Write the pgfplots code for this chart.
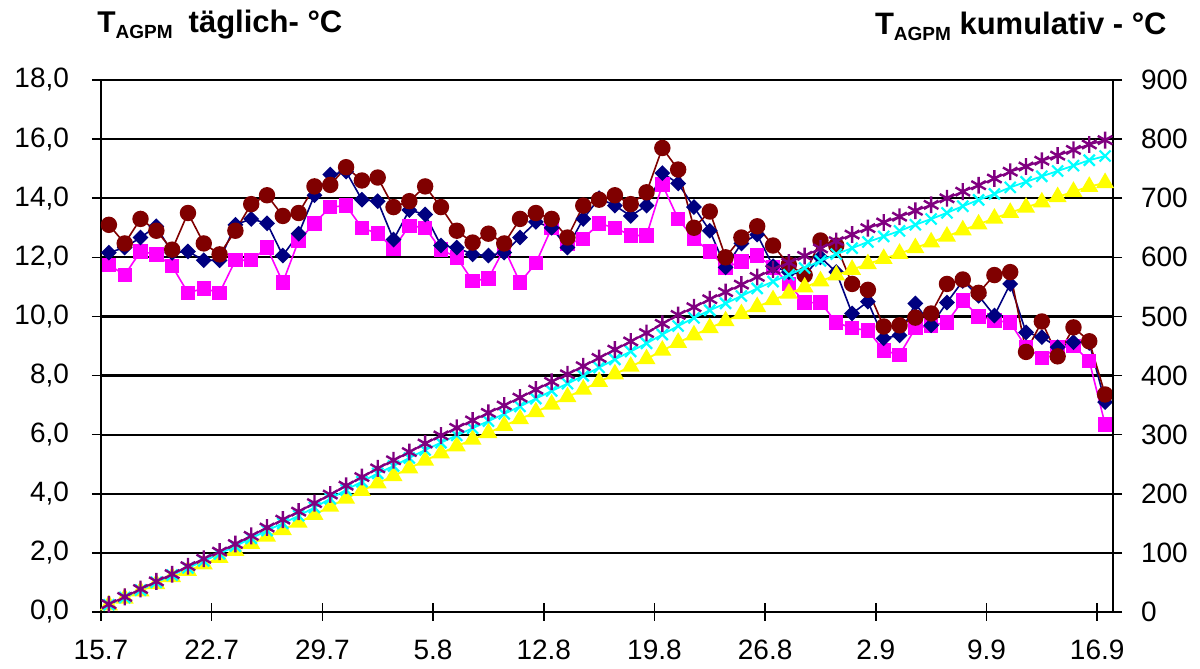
\documentclass[border=0pt]{standalone}
\usepackage{pgfplots}
\pgfplotsset{compat=1.18}
\usepackage{pgfplotstable}
\usepackage{fontspec}
\setmainfont{Liberation Sans}

\definecolor{cnavy}{RGB}{0,0,128}
\definecolor{cmaroon}{RGB}{128,0,0}
\definecolor{cmag}{RGB}{255,0,255}
\definecolor{cpurp}{RGB}{128,0,128}
\definecolor{ccyan}{RGB}{0,255,255}
\definecolor{cyel}{RGB}{255,255,0}

\pgfplotstableread{
x R N M P C Y
0.5 13.1 12.16 11.75 13.1 12.16 11.75
1.5 12.47 12.33 11.4 25.57 24.49 23.15
2.5 13.3 12.67 12.2 38.87 37.16 35.35
3.5 12.9 13.05 12.1 51.77 50.21 47.45
4.5 12.26 12.15 11.7 64.03 62.36 59.15
5.5 13.5 12.2 10.8 77.53 74.56 69.95
6.5 12.47 11.9 10.95 90.00 86.46 80.90
7.5 12.1 11.9 10.8 102.10 98.36 91.70
8.5 12.9 13.1 11.9 115.00 111.46 103.60
9.5 13.8 13.3 11.9 128.80 124.76 115.50
10.5 14.1 13.15 12.33 142.90 137.91 127.83
11.5 13.4 12.06 11.15 156.30 149.97 138.98
12.5 13.5 12.8 12.57 169.80 162.77 151.55
13.5 14.4 14.1 13.15 184.20 176.87 164.70
14.5 14.45 14.8 13.7 198.65 191.67 178.40
15.5 15.05 14.9 13.75 213.70 206.57 192.15
16.5 14.6 13.95 13.0 228.30 220.52 205.15
17.5 14.7 13.9 12.8 243.00 234.42 217.95
18.5 13.7 12.6 12.3 256.70 247.02 230.25
19.5 13.9 13.6 13.07 270.60 260.62 243.32
20.5 14.4 13.45 13.0 285.00 274.07 256.32
21.5 13.7 12.4 12.26 298.70 286.47 268.58
22.5 12.9 12.33 12.0 311.60 298.80 280.58
23.5 12.5 12.1 11.2 324.10 310.90 291.78
24.5 12.8 12.06 11.28 336.90 322.96 303.06
25.5 12.47 12.16 12.3 349.37 335.12 315.36
26.5 13.3 12.67 11.15 362.67 347.79 326.51
27.5 13.5 13.2 11.8 376.17 360.99 338.31
28.5 13.3 13.0 13.0 389.47 373.99 351.31
29.5 12.67 12.33 12.45 402.14 386.32 363.76
30.5 13.75 13.3 12.63 415.89 399.62 376.39
31.5 13.95 14.0 13.14 429.84 413.62 389.53
32.5 14.1 13.75 13.0 443.94 427.37 402.53
33.5 13.8 13.4 12.74 457.74 440.77 415.27
34.5 14.2 13.75 12.74 471.94 454.52 428.01
35.5 15.7 14.85 14.46 487.64 469.37 442.47
36.5 14.97 14.5 13.3 502.61 483.87 455.77
37.5 13.0 13.7 12.63 515.61 497.57 468.40
38.5 13.55 12.9 12.2 529.16 510.47 480.60
39.5 12.0 11.66 11.66 541.16 522.13 492.26
40.5 12.67 12.47 11.86 553.83 534.60 504.12
41.5 13.05 12.77 12.06 566.88 547.37 516.18
42.5 12.4 11.7 11.66 579.28 559.07 527.84
43.5 11.75 11.5 11.1 591.03 570.57 538.94
44.5 11.4 11.4 10.47 602.43 581.97 549.41
45.5 12.57 12.0 10.47 615.00 593.97 559.88
46.5 12.4 11.5 9.8 627.40 605.47 569.68
47.5 11.1 10.1 9.6 638.50 615.57 579.28
48.5 10.9 10.5 9.53 649.40 626.07 588.81
49.5 9.66 9.26 8.85 659.06 635.33 597.66
50.5 9.7 9.36 8.7 668.76 644.69 606.36
51.5 9.96 10.44 9.6 678.72 655.13 615.96
52.5 10.1 9.7 9.7 688.82 664.83 625.66
53.5 11.1 10.47 9.8 699.92 675.30 635.46
54.5 11.25 11.2 10.54 711.17 686.50 646.00
55.5 10.8 10.7 10.0 721.97 697.20 656.00
56.5 11.4 10.03 9.86 733.37 707.23 665.86
57.5 11.5 11.1 9.8 744.87 718.33 675.66
58.5 8.8 9.46 8.96 753.67 727.79 684.62
59.5 9.83 9.3 8.6 763.50 737.09 693.22
60.5 8.65 8.96 8.96 772.15 746.05 702.18
61.5 9.63 9.13 9.0 781.78 755.18 711.18
62.5 9.16 9.1 8.5 790.94 764.28 719.68
63.5 7.36 7.1 6.35 798.30 771.38 726.03
}\data

\pgfplotsset{
  common/.style={
    scale only axis, width=506pt, height=266pt,
    xmin=0, xmax=64,
    axis line style={line width=1.2pt, -},
    tick align=center, major tick length=9pt,
    tick style={black, line width=0.8pt},
    /pgf/number format/assume math mode=true,
    tick label style={font=\fontsize{14}{16}\selectfont},
    clip=false,
  }
}

\begin{document}
\begin{tikzpicture}
\useasboundingbox (-50.5pt,-28.5pt) rectangle (549.5pt,306pt);
\begin{axis}[
  common,
  ymin=0, ymax=18,
  axis x line*=bottom, axis y line*=left,
  xtick={0,7,...,63},
  xticklabels={15.7,22.7,29.7,5.8,12.8,19.8,26.8,2.9,9.9,16.9},
  xticklabel style={yshift=-6pt},
  ytick={0,2,...,18},
  ymajorgrids, major grid style={black, line width=1.1pt},
  yticklabel style={xshift=-8pt, /pgf/number format/.cd, fixed, fixed zerofill, precision=1, use comma},
]
\addplot[cmag, line width=0.8pt, mark=square*, mark size=3.2pt, mark options={solid, fill=cmag, draw=cmag}] table[x=x, y=M] {\data};
\addplot[cnavy, line width=0.8pt, mark=square*, mark size=2.4pt, mark options={solid, rotate=45, fill=cnavy, draw=cnavy}] table[x=x, y=N] {\data};
\addplot[cmaroon, line width=0.8pt, mark=*, mark size=3.7pt, mark options={solid, fill=cmaroon, draw=cmaroon}] table[x=x, y=R] {\data};
\end{axis}
\begin{axis}[
  common,
  ymin=0, ymax=900,
  axis x line=none, axis y line*=right,
  ytick={0,100,...,900},
  yticklabel style={xshift=6pt},
]
\addplot[cyel, line width=0.9pt, mark=triangle*, mark size=4.3pt, mark options={solid, fill=cyel, draw=cyel}] table[x=x, y=Y] {\data};
\addplot[ccyan, line width=0.9pt, mark=x, mark size=3.9pt, mark options={solid, line width=1.1pt}] table[x=x, y=C] {\data};
\addplot[cpurp, line width=0.9pt, mark=asterisk, mark size=4.2pt, mark options={solid, line width=1.2pt}] table[x=x, y=P] {\data};
\end{axis}
\node[anchor=base west, inner sep=0pt, font=\bfseries] at (-2pt,289.5pt) {\fontsize{15}{17}\selectfont T\raisebox{-3pt}{\fontsize{9.5}{10}\selectfont AGPM}\hspace{8pt}\fontsize{15.5}{17}\selectfont täglich- °C};
\node[anchor=base east, inner sep=0pt, font=\bfseries] at (533pt,288.5pt) {\fontsize{15.5}{17}\selectfont T\raisebox{-3pt}{\fontsize{9.5}{10}\selectfont AGPM} kumulativ - °C};
\end{tikzpicture}
\end{document}
